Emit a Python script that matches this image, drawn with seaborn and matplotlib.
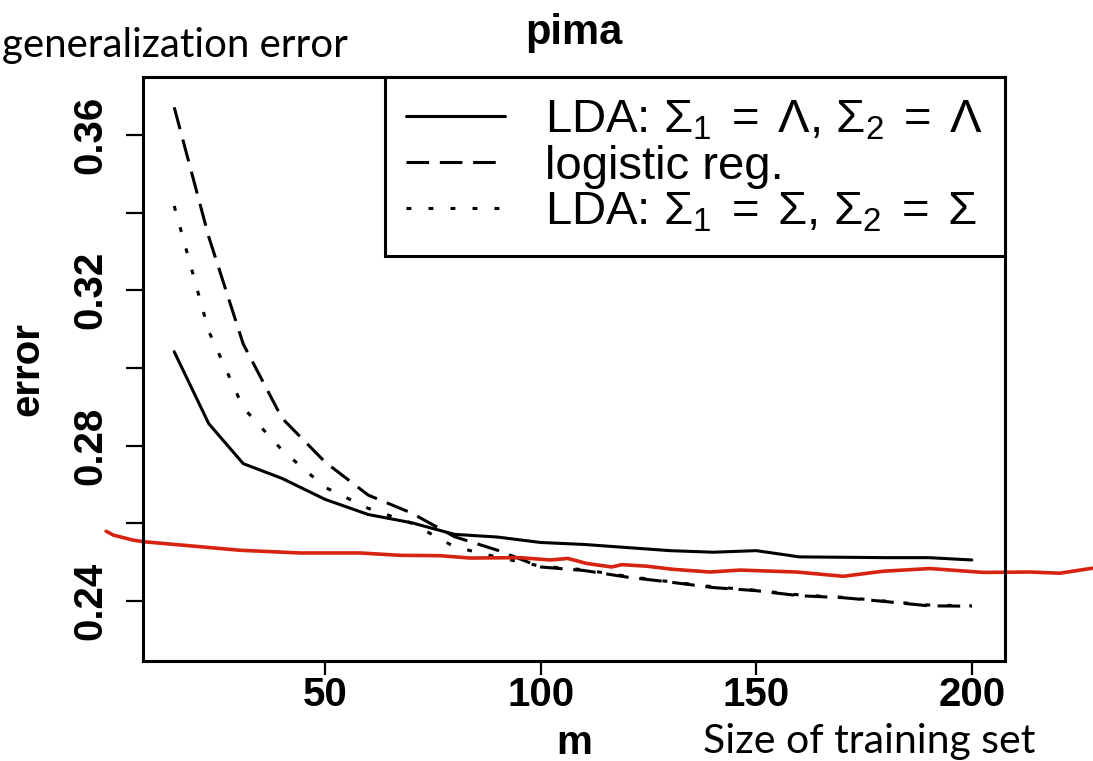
import matplotlib
matplotlib.use("Agg")
import matplotlib.pyplot as plt
import seaborn as sns
import pandas as pd

# ---- data ----
m = [15, 23, 31, 40, 50, 60, 70, 80, 90, 100, 110, 120, 130, 140, 150, 160, 170, 180, 190, 200]
lda_lambda = [0.3042, 0.2857, 0.2754, 0.2716, 0.2662, 0.2623, 0.2602, 0.2572, 0.2565, 0.2551,
              0.2546, 0.2538, 0.2530, 0.2526, 0.2530, 0.2514, 0.2513, 0.2512, 0.2512, 0.2506]
logreg = [0.3671, 0.3338, 0.3062, 0.2871, 0.2758, 0.2673, 0.2627, 0.2566, 0.2531, 0.2488,
          0.2479, 0.2462, 0.2449, 0.2435, 0.2427, 0.2414, 0.2409, 0.2399, 0.2388, 0.2387]
lda_sigma = [0.3417, 0.3095, 0.2898, 0.2789, 0.2693, 0.2639, 0.2601, 0.2540, 0.2513, 0.2490,
             0.2481, 0.2464, 0.2450, 0.2437, 0.2428, 0.2416, 0.2410, 0.2400, 0.2390, 0.2388]

red_m = [-0.8, 0.9, 5.5, 7.9, 17.1, 30.3, 44.2, 58.1, 67.4, 76.7, 83.6, 95.2, 102.2, 106.3, 110.7,
         116.5, 118.8, 124.6, 130.7, 139.3, 146.2, 159.4, 170.2, 179.4, 190.3, 202.6, 213.5, 220.4, 228.1]
red_v = [0.2580, 0.2570, 0.2557, 0.2553, 0.2544, 0.2531, 0.2524, 0.2524, 0.2518, 0.2517, 0.2511,
         0.2512, 0.2506, 0.2510, 0.2497, 0.2488, 0.2494, 0.2490, 0.2482, 0.2475, 0.2480, 0.2475,
         0.2464, 0.2477, 0.2484, 0.2474, 0.2475, 0.2472, 0.2485]

series_labels = [r"LDA: $\Sigma_1 \;=\; \Lambda$, $\Sigma_2 \;=\; \Lambda$",
                 "logistic reg.",
                 r"LDA: $\Sigma_1 \;=\; \Sigma$, $\Sigma_2 \;=\; \Sigma$"]
y_ticks = [0.24, 0.26, 0.28, 0.30, 0.32, 0.34, 0.36]
y_ticklabels = ["0.24", "", "0.28", "", "0.32", "", "0.36"]
x_ticks = [50, 100, 150, 200]
x_ticklabels = ["50", "100", "150", "200"]
title = "pima"
xlabel = "m"
ylabel = "error"
note_top = "generalization error"
note_bottom = "Size of training set"

# ---- style ----
sns.set_theme(style="white")
plt.rcParams["font.family"] = ["Liberation Sans", "DejaVu Sans"]
plt.rcParams["mathtext.fontset"] = "custom"
plt.rcParams["mathtext.rm"] = "Liberation Sans"
plt.rcParams["mathtext.it"] = "Liberation Sans"
plt.rcParams["mathtext.default"] = "regular"
for k in ["text.color", "axes.labelcolor", "xtick.color", "ytick.color"]:
    plt.rcParams[k] = "black"

fig = plt.figure(figsize=(10.93, 7.61), dpi=100)
ax = fig.add_axes([0.1306, 0.1314, 0.9195 - 0.1306, 0.8988 - 0.1314])

lw = 2.2
df = pd.DataFrame({"m": m, "a": lda_lambda, "b": logreg, "c": lda_sigma})
sns.lineplot(data=df, x="m", y="a", ax=ax, color="black", lw=lw, linestyle="-",
             label=series_labels[0], estimator=None, sort=False)
sns.lineplot(data=df, x="m", y="b", ax=ax, color="black", lw=lw, linestyle=(0, (7.4, 3.5)),
             label=series_labels[1], estimator=None, sort=False)
sns.lineplot(data=df, x="m", y="c", ax=ax, color="black", lw=lw, linestyle=(0, (1.6, 5.6)),
             label=series_labels[2], estimator=None, sort=False)

red_df = pd.DataFrame({"m": red_m, "v": red_v})
sns.lineplot(data=red_df, x="m", y="v", ax=ax, color="#d62410", lw=2.6, estimator=None,
             sort=False, clip_on=False, legend=False)

ax.set_xlim(7.7, 207.7)
ax.set_ylim(0.2246, 0.3749)
ax.set_xticks(x_ticks)
ax.set_xticklabels(x_ticklabels, fontsize=29, fontweight="bold")
ax.set_yticks(y_ticks)
ax.set_yticklabels(y_ticklabels, fontsize=29, fontweight="bold", rotation=90, va="center")
ax.tick_params(axis="x", direction="out", length=10, width=1.6, pad=1)
ax.tick_params(axis="y", direction="out", length=12, width=1.6, pad=12)
ax.tick_params(axis="both", bottom=True, left=True)
for s in ax.spines.values():
    s.set_color("black")
    s.set_linewidth(2.2)

ax.set_xlabel(xlabel, fontsize=29, fontweight="bold", labelpad=7)
ax.set_ylabel(ylabel, fontsize=29, fontweight="bold", labelpad=18)
ax.set_title(title, fontsize=30, fontweight="bold", pad=24)

leg = ax.legend(loc="upper right", bbox_to_anchor=(1.0, 1.0), borderaxespad=0,
                fontsize=34, frameon=True, fancybox=False, handlelength=2.1,
                handletextpad=0.85, labelspacing=0.05, borderpad=0.45)
leg.get_frame().set_edgecolor("black")
leg.get_frame().set_linewidth(2.2)
leg.get_frame().set_alpha(1)

fig.text(348 / 1093, 1 - 45 / 761, note_top, ha="right", va="center", fontsize=29,
         family=["Lato", "DejaVu Sans"])
fig.text(1035 / 1093, 1 - 741 / 761, note_bottom, ha="right", va="center", fontsize=29.5,
         family=["Lato", "DejaVu Sans"])

fig.savefig("out.png", dpi=100)
